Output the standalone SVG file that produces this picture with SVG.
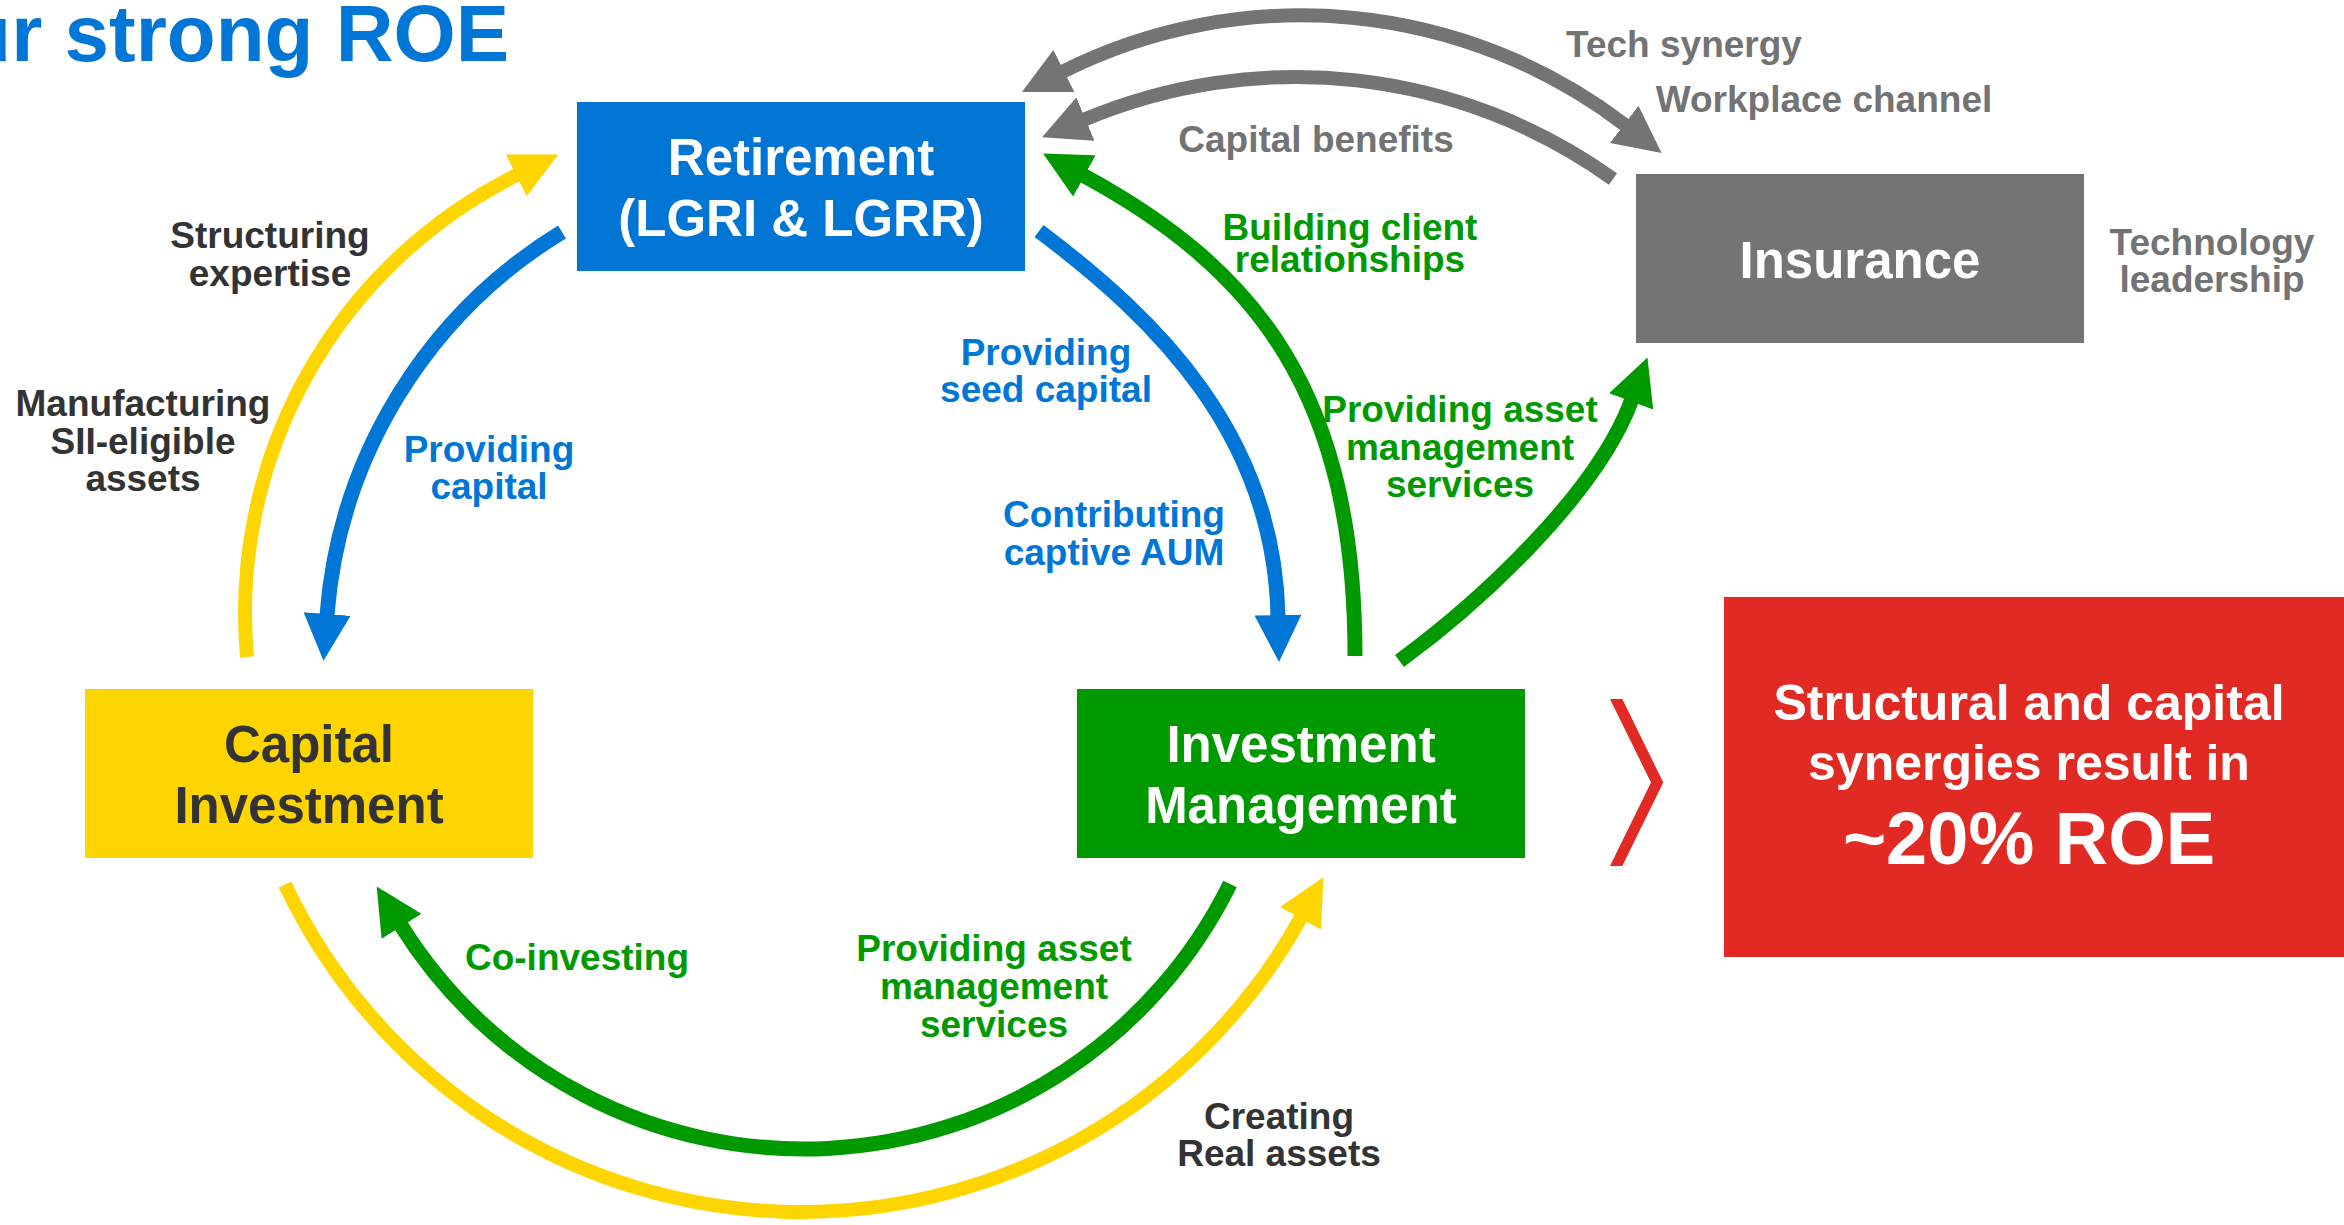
<svg xmlns="http://www.w3.org/2000/svg" width="2344" height="1225" viewBox="0 0 2344 1225">
<style>
text{font-family:"Liberation Sans",Arial,sans-serif;font-weight:bold}
.title{font-size:80px;fill:#0077D6;text-anchor:end}
.box{font-size:51px;fill:#FFFFFF;text-anchor:middle}
.boxd{font-size:51px;fill:#333333;text-anchor:middle}
.lbl{font-size:37px;text-anchor:middle}
.dk{fill:#333333}.bl{fill:#0077D6}.gr{fill:#009A00}.gy{fill:#737373}
.roe1{font-size:50px;fill:#FFFFFF;text-anchor:middle}
.roe2{font-size:74px;fill:#FFFFFF;text-anchor:middle}
.arc{fill:none;stroke-linecap:butt}
</style>
<defs>
<marker id="ahY" viewBox="0 0 47 47" refX="1" refY="23.5" markerWidth="47" markerHeight="47" markerUnits="userSpaceOnUse" orient="auto"><path d="M0,0 L47,23.5 L0,47 Z" fill="#FFD500"/></marker>
<marker id="ahB" viewBox="0 0 47 47" refX="1" refY="23.5" markerWidth="47" markerHeight="47" markerUnits="userSpaceOnUse" orient="auto"><path d="M0,0 L47,23.5 L0,47 Z" fill="#0077D6"/></marker>
<marker id="ahG" viewBox="0 0 47 47" refX="1" refY="23.5" markerWidth="47" markerHeight="47" markerUnits="userSpaceOnUse" orient="auto"><path d="M0,0 L47,23.5 L0,47 Z" fill="#009A00"/></marker>
<marker id="ahGy" viewBox="0 0 47 47" refX="1" refY="23.5" markerWidth="47" markerHeight="47" markerUnits="userSpaceOnUse" orient="auto-start-reverse"><path d="M0,0 L47,23.5 L0,47 Z" fill="#747474"/></marker>
</defs>
<rect width="2344" height="1225" fill="#FFFFFF"/>
<text class="title" x="509" y="61">ur strong ROE</text>

<g id="connectors">
<path class="arc" d="M 247 657 A 489 489 0 0 1 517 175" stroke="#FFD500" stroke-width="14" marker-end="url(#ahY)"/>
<path class="arc" d="M 562 232 A 493 493 0 0 0 327 615" stroke="#0077D6" stroke-width="15" marker-end="url(#ahB)"/>
<path class="arc" d="M 1039 231 C 1159 321 1274 436 1278 616" stroke="#0077D6" stroke-width="15" marker-end="url(#ahB)"/>
<path class="arc" d="M 1355 656 C 1355 396 1259.3 270.9 1083.5 175.5" stroke="#009A00" stroke-width="15" marker-end="url(#ahG)"/>
<path class="arc" d="M 1399.5 661 C 1480 602 1596.7 494.2 1631.5 400.5" stroke="#009A00" stroke-width="15" marker-end="url(#ahG)"/>
<path class="arc" d="M 1063 71.5 A 533 533 0 0 1 1625 125" stroke="#747474" stroke-width="14" marker-start="url(#ahGy)" marker-end="url(#ahGy)"/>
<path class="arc" d="M 1613 179 A 545 545 0 0 0 1084.5 119.5" stroke="#747474" stroke-width="14" marker-end="url(#ahGy)"/>
<path class="arc" d="M 1230 884 A 475 475 0 0 1 401 925.5" stroke="#009A00" stroke-width="15" marker-end="url(#ahG)"/>
<path class="arc" d="M 285 884.5 A 571 571 0 0 0 1301 917.5" stroke="#FFD500" stroke-width="14" marker-end="url(#ahY)"/>
</g>

<g id="retirement">
<rect x="577" y="102" width="448" height="169" fill="#0075D4"/>
<text class="box" x="801" y="175">Retirement</text>
<text class="box" x="801" y="236">(LGRI &amp; LGRR)</text>
</g>
<g id="insurance">
<rect x="1636" y="174" width="448" height="169" fill="#747474"/>
<text class="box" x="1860" y="278">Insurance</text>
</g>
<g id="capital-investment">
<rect x="85" y="689" width="448" height="169" fill="#FFD500"/>
<text class="boxd" x="309" y="762">Capital</text>
<text class="boxd" x="309" y="823">Investment</text>
</g>
<g id="investment-management">
<rect x="1077" y="689" width="448" height="169" fill="#009A00"/>
<text class="box" x="1301" y="762">Investment</text>
<text class="box" x="1301" y="823">Management</text>
</g>
<g id="roe">
<polygon points="1610,699 1622.3,699 1663.3,782.5 1622.3,866 1610,866 1651,782.5" fill="#E12A24"/>
<rect x="1724" y="597" width="640" height="360" fill="#E12A24"/>
<text class="roe1" x="2029" y="720">Structural and capital</text>
<text class="roe1" x="2029" y="780">synergies result in</text>
<text class="roe2" x="2029" y="864">~20% ROE</text>
</g>

<g id="labels">
<text class="lbl dk" x="270" y="248">Structuring</text>
<text class="lbl dk" x="270" y="286">expertise</text>
<text class="lbl dk" x="143" y="416">Manufacturing</text>
<text class="lbl dk" x="143" y="454">SII-eligible</text>
<text class="lbl dk" x="143" y="491">assets</text>
<text class="lbl bl" x="489" y="462">Providing</text>
<text class="lbl bl" x="489" y="499">capital</text>
<text class="lbl bl" x="1046" y="365">Providing</text>
<text class="lbl bl" x="1046" y="402">seed capital</text>
<text class="lbl bl" x="1114" y="527">Contributing</text>
<text class="lbl bl" x="1114" y="565">captive AUM</text>
<text class="lbl gr" x="1350" y="240">Building client</text>
<text class="lbl gr" x="1350" y="272">relationships</text>
<text class="lbl gr" x="1460" y="422">Providing asset</text>
<text class="lbl gr" x="1460" y="460">management</text>
<text class="lbl gr" x="1460" y="497">services</text>
<text class="lbl gy" x="1316" y="152">Capital benefits</text>
<text class="lbl gy" x="1684" y="57">Tech synergy</text>
<text class="lbl gy" x="1824" y="112">Workplace channel</text>
<text class="lbl gy" x="2212" y="255">Technology</text>
<text class="lbl gy" x="2212" y="292">leadership</text>
<text class="lbl gr" x="577" y="970">Co-investing</text>
<text class="lbl gr" x="994" y="961">Providing asset</text>
<text class="lbl gr" x="994" y="999">management</text>
<text class="lbl gr" x="994" y="1037">services</text>
<text class="lbl dk" x="1279" y="1129">Creating</text>
<text class="lbl dk" x="1279" y="1166">Real assets</text>
</g>
</svg>
